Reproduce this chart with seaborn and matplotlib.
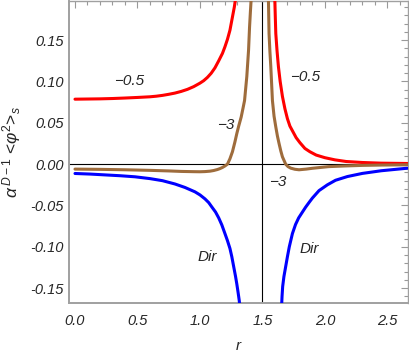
import matplotlib
matplotlib.use("Agg")
import matplotlib.pyplot as plt
import matplotlib.ticker as mticker
import pandas as pd
import seaborn as sns

# Values (r, value), one pair of lists per branch
red_left_r = [0.0, 0.1, 0.2, 0.3, 0.4, 0.5, 0.6, 0.65, 0.7, 0.75, 0.8, 0.85, 0.9, 0.95,
              1.0, 1.03, 1.06, 1.09, 1.12, 1.15, 1.18, 1.2, 1.22, 1.24, 1.26, 1.275, 1.285]
red_left_v = [0.0786, 0.0788, 0.0790, 0.0794, 0.0800, 0.0807, 0.0815, 0.0822, 0.0832,
              0.0845, 0.0860, 0.0880, 0.0905, 0.0938, 0.0980, 0.1010, 0.1050, 0.1100,
              0.1165, 0.1250, 0.1340, 0.1420, 0.1510, 0.1620, 0.1780, 0.1900, 0.2000]

red_right_r = [1.599, 1.603, 1.607, 1.617, 1.628, 1.642, 1.66, 1.68, 1.70, 1.72, 1.745,
               1.77, 1.80, 1.84, 1.88, 1.93, 2.00, 2.08, 2.17, 2.30, 2.45, 2.66]
red_right_v = [0.200, 0.178, 0.158, 0.137, 0.118, 0.100, 0.082, 0.067, 0.055, 0.046,
               0.039, 0.032, 0.026, 0.019, 0.015, 0.011, 0.0078, 0.0052, 0.0032, 0.0020,
               0.0012, 0.0008]

brown_left_r = [0.0, 0.2, 0.4, 0.6, 0.75, 0.85, 0.95, 1.0, 1.04, 1.08, 1.11, 1.14, 1.16,
                1.18, 1.20, 1.22, 1.24, 1.26, 1.28, 1.295, 1.31, 1.33, 1.345, 1.357,
                1.375, 1.389, 1.397, 1.404, 1.41]
brown_left_v = [-0.0060, -0.0063, -0.0068, -0.0075, -0.0082, -0.0088, -0.0091, -0.0092,
                -0.0090, -0.0085, -0.0077, -0.0065, -0.0054, -0.0040, -0.0022, 0.0,
                0.0065, 0.0150, 0.0270, 0.0370, 0.0460, 0.0570, 0.0680, 0.0770, 0.1060,
                0.1380, 0.1660, 0.1850, 0.2000]

brown_right_r = [1.548, 1.553, 1.560, 1.567, 1.580, 1.593, 1.607, 1.620, 1.633, 1.647,
                 1.660, 1.686, 1.705, 1.726, 1.76, 1.793, 1.85, 1.90, 2.03, 2.16, 2.30,
                 2.45, 2.66]
brown_right_v = [0.200, 0.158, 0.136, 0.118, 0.077, 0.058, 0.045, 0.034, 0.025, 0.016,
                 0.0089, 0.0, -0.0030, -0.0048, -0.0062, -0.0068, -0.0060, -0.0050,
                 -0.0030, -0.0022, -0.0015, -0.0011, -0.0008]

blue_left_r = [0.0, 0.12, 0.24, 0.36, 0.48, 0.6, 0.7, 0.8, 0.88, 0.96, 1.0, 1.04, 1.07,
               1.096, 1.125, 1.15, 1.175, 1.2, 1.22, 1.24, 1.255, 1.27, 1.285, 1.295,
               1.305, 1.314, 1.318]
blue_left_v = [-0.0113, -0.0120, -0.0130, -0.0140, -0.0153, -0.0175, -0.0200, -0.0240,
               -0.0282, -0.0335, -0.0372, -0.0420, -0.0465, -0.0520, -0.0580, -0.0650,
               -0.0735, -0.0840, -0.0925, -0.1020, -0.1120, -0.1240, -0.1360, -0.1450,
               -0.1550, -0.1645, -0.1700]

blue_right_r = [1.654, 1.657, 1.662, 1.672, 1.686, 1.70, 1.715, 1.74, 1.765, 1.79, 1.82,
                1.846, 1.875, 1.90, 1.953, 2.02, 2.085, 2.18, 2.30, 2.45, 2.64, 2.66]
blue_right_v = [-0.170, -0.160, -0.148, -0.136, -0.124, -0.112, -0.100, -0.084, -0.073,
                -0.065, -0.058, -0.052, -0.046, -0.041, -0.032, -0.025, -0.0195, -0.0150,
                -0.0112, -0.0080, -0.0052, -0.0050]

x_ticks = [0.0, 0.5, 1.0, 1.5, 2.0, 2.5]
y_ticks = [-0.15, -0.10, -0.05, 0.00, 0.05, 0.10, 0.15]

branches = [
    (red_left_r, red_left_v, "#ff0000"),
    (red_right_r, red_right_v, "#ff0000"),
    (brown_left_r, brown_left_v, "#9e6c3c"),
    (brown_right_r, brown_right_v, "#9e6c3c"),
    (blue_left_r, blue_left_v, "#0000ff"),
    (blue_right_r, blue_right_v, "#0000ff"),
]

sns.set_style("white")
plt.rcParams["font.family"] = ["Liberation Sans", "DejaVu Sans"]
plt.rcParams["mathtext.fontset"] = "custom"
plt.rcParams["mathtext.it"] = "Liberation Sans:italic"
plt.rcParams["mathtext.rm"] = "Liberation Sans"

fig = plt.figure(figsize=(4.09, 3.54), dpi=100)
ax = fig.add_axes([69 / 409, 51 / 354, 339 / 409, 302.5 / 354])

# axes through zero and through the singular point r = 1.5
ax.axhline(0, color="black", lw=0.8, zorder=1)
ax.axvline(1.5, color="black", lw=0.8, zorder=1)

for r_vals, v_vals, col in branches:
    df = pd.DataFrame({"r": r_vals, "v": v_vals})
    sns.lineplot(data=df, x="r", y="v", color=col, lw=2.2, sort=False,
                 estimator=None, ax=ax, zorder=3)
for line in ax.get_lines():
    line.set_solid_joinstyle("round")

ax.set_xlim(-0.048, 2.665)
ax.set_ylim(-0.168, 0.198)

ax.set_xticks(x_ticks)
ax.set_yticks(y_ticks)
ax.xaxis.set_major_formatter(mticker.FormatStrFormatter("%.1f"))
ax.yaxis.set_major_formatter(mticker.FormatStrFormatter("%.2f"))
ax.xaxis.set_minor_locator(mticker.MultipleLocator(0.1))
ax.yaxis.set_minor_locator(mticker.MultipleLocator(0.01))

ax.tick_params(which="both", direction="in", top=True, right=True,
               color="#999999", width=0.8)
ax.tick_params(which="major", length=5, labelsize=10.5)
ax.tick_params(which="minor", length=3)
ax.tick_params(axis="x", pad=8)
ax.tick_params(axis="y", pad=4)
for lab in ax.get_xticklabels() + ax.get_yticklabels():
    lab.set_fontstyle("italic")

for side, sp in ax.spines.items():
    sp.set_color("#a0a0a0")
    sp.set_linewidth(1.4 if side in ("left", "bottom") else 1.0)

ax.set_xlabel("r", fontsize=11, fontstyle="italic", labelpad=8)
ax.set_ylabel(r"$\alpha^{\,D-1}$ <$\varphi^2$>$_s$", fontsize=12.5, labelpad=5)

# curve labels
label_kw = dict(fontsize=11, fontstyle="italic", ha="center", va="center")
ax.text(0.435, 0.100, "\u22120.5", **label_kw)
ax.text(1.84, 0.105, "\u22120.5", **label_kw)
ax.text(1.21, 0.047, "\u22123", **label_kw)
ax.text(1.62, -0.022, "\u22123", **label_kw)
ax.text(1.06, -0.112, "Dir", **label_kw)
ax.text(1.875, -0.103, "Dir", **label_kw)

fig.savefig("out.png", dpi=100)
